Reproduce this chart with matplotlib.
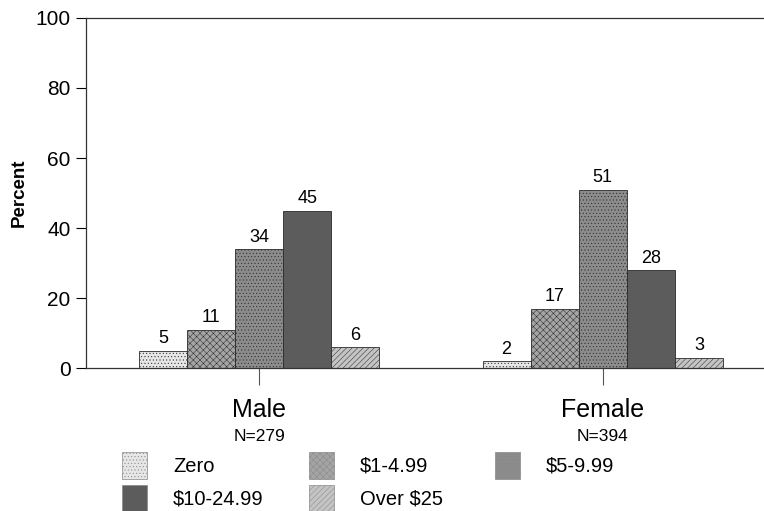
import matplotlib.pyplot as plt
from matplotlib.patches import Rectangle
import numpy as np

plt.rcParams['font.family'] = ['Liberation Sans', 'DejaVu Sans']
plt.rcParams['hatch.linewidth'] = 0.35

groups = ['Male', 'Female']
group_n = ['N=279', 'N=394']
categories = ['Zero', '$1-4.99', '$5-9.99', '$10-24.99', 'Over $25']
male = [5, 11, 34, 45, 6]
female = [2, 17, 51, 28, 3]

colors = ['#e6e6e6', '#a4a4a4', '#8c8c8c', '#5c5c5c', '#c4c4c4']
hatches = ['.....', 'xxxxx', '.....', '', '//////']

fig = plt.figure(figsize=(7.64, 5.11), dpi=100)
ax = fig.add_axes([0.1126, 0.2798, 0.95, 0.685])

centers = np.array([0.0, 7.15])
width = 1.0
offsets = (np.arange(len(categories)) - 2) * width
values = np.array([male, female])

for i, cat in enumerate(categories):
    xs = centers + offsets[i]
    bars = ax.bar(xs, values[:, i], width=width, color=colors[i],
                  edgecolor='#2a2a2a', linewidth=0.6, hatch=hatches[i])
    for b in bars:
        ax.text(b.get_x() + b.get_width() / 2, b.get_height() + 1.0,
                f'{int(b.get_height())}', ha='center', va='bottom', fontsize=13)

ax.set_xlim(-3.6, 11.5)
ax.set_ylim(0, 100)
ax.set_yticks([0, 20, 40, 60, 80, 100])
ax.tick_params(axis='y', labelsize=15, length=7, direction='out', pad=4)
ax.set_xticks(centers)
ax.set_xticklabels([])
ax.tick_params(axis='x', length=12, direction='out', color='#555555')
ax.set_ylabel('Percent', fontsize=13.5, fontweight='bold', labelpad=6)
ax.spines['right'].set_visible(False)
for s in ['left', 'top', 'bottom']:
    ax.spines[s].set_linewidth(0.9)
    ax.spines[s].set_color('#333333')

for c, g, n in zip(centers, groups, group_n):
    ax.text(c, -8.5, g, ha='center', va='top', fontsize=18)
    ax.text(c, -17.5, n, ha='center', va='top', fontsize=12.5)

# legend laid out in a 3-column grid, row-major
W, H = 764.0, 511.0
col_x = [122, 309, 495]
row_y = [452, 485]
for i, cat in enumerate(categories):
    r, c = divmod(i, 3)
    x0, y0 = col_x[c], row_y[r]
    fig.add_artist(Rectangle((x0 / W, 1 - (y0 + 27) / H), 25 / W, 27 / H,
                             transform=fig.transFigure, facecolor=colors[i],
                             edgecolor='#888888', linewidth=0.5, hatch=hatches[i]))
    fig.text((x0 + 51) / W, 1 - (y0 + 14) / H, cat, ha='left', va='center', fontsize=14.5)

fig.savefig('out.png', dpi=100)
